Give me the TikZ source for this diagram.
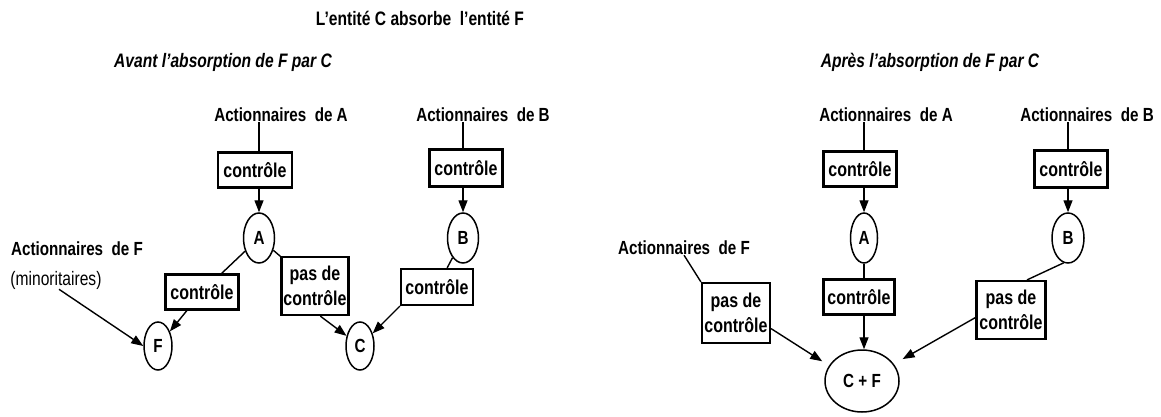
\documentclass[tikz,border=0pt]{standalone}
\usepackage{fontspec}
\setmainfont[FakeStretch=0.8]{Liberation Sans}
\usetikzlibrary{arrows.meta,shapes.geometric,calc}
\begin{document}
\begin{tikzpicture}[x=1pt,y=-1pt,
  lbl/.style={font=\fontsize{19}{22}\selectfont\bfseries, inner sep=0pt},
  ttl/.style={font=\fontsize{19.5}{22}\selectfont\bfseries, inner sep=0pt},
  sub/.style={font=\fontsize{19.5}{22}\selectfont\bfseries\itshape, inner sep=0pt},
  ctlbox/.style={draw, line width=2.2pt, font=\fontsize{20}{25}\selectfont\bfseries, align=center, inner sep=0pt},
  ent/.style={ellipse, draw, line width=1.5pt, font=\fontsize{19}{22}\selectfont\bfseries, inner sep=0pt},
  conn/.style={line width=1.4pt},
  arr/.style={conn, -{Triangle[length=12pt,width=9pt]}}]
\useasboundingbox (0,0) rectangle (1161,417);

% titles
\node[ttl] (title) at (420,18) {L'entité C absorbe\ \ l'entité F};
\node[sub] (avant) at (223,62) {Avant l'absorption\ de F par C};
\node[sub] (apres) at (930,62) {Après l'absorption de F par C};

% ---------- left diagram ----------
\node[lbl] (actA) at (281,115) {Actionnaires\ \ de A};
\node[lbl] (actB) at (483,115) {Actionnaires\ \ de B};
\node[lbl] (actF) at (77,249) {Actionnaires\ \ de F};
\node[lbl, font=\fontsize{19.5}{22}\selectfont] (minor) at (56,280) {(minoritaires)};

\node[ctlbox, minimum width=74pt, minimum height=35pt] (ctlA) at (255,170) {contrôle};
\node[ctlbox, minimum width=73pt, minimum height=37pt] (ctlB) at (466,168) {contrôle};
\node[ent, minimum width=31pt, minimum height=50pt] (A) at (259,238) {A};
\node[ent, minimum width=31pt, minimum height=50pt] (B) at (463,238) {B};
\node[ctlbox, minimum width=73pt, minimum height=35pt] (ctlF) at (202,292) {contrôle};
\node[ctlbox, minimum width=67pt, minimum height=58pt] (pdcC) at (315,286) {pas de\\contrôle};
\node[ctlbox, minimum width=72pt, minimum height=36pt] (ctlBC) at (437,287) {contrôle};
\node[ent, minimum width=28pt, minimum height=48pt] (F) at (158,346) {F};
\node[ent, minimum width=28pt, minimum height=48pt] (C) at (360,346) {C};

\draw[conn] (A.north |- actA.south) -- (A.north |- ctlA.north);
\draw[arr] (A.north |- ctlA.south) -- (A.north);
\draw[conn] (B.north |- actB.south) -- (B.north |- ctlB.north);
\draw[arr] (B.north |- ctlB.south) -- (B.north);
\draw[conn] (A) -- (ctlF);
\draw[arr] (ctlF) -- (F);
\draw[conn] (A) -- (pdcC);
\draw[arr] (pdcC.-80) -- (C);
\draw[conn] (B) -- (ctlBC);
\draw[arr] (ctlBC.south west) -- (C);
\draw[arr] ([xshift=3pt]minor.south) -- (F.west);

% ---------- right diagram ----------
\node[lbl] (actA2) at (886,115) {Actionnaires\ \ de A};
\node[lbl] (actB2) at (1087,115) {Actionnaires\ \ de B};
\node[lbl] (actF2) at (684,248) {Actionnaires\ \ de F};

\node[ctlbox, minimum width=73pt, minimum height=35pt] (ctlA2) at (860,169) {contrôle};
\node[ctlbox, minimum width=73pt, minimum height=37pt] (ctlB2) at (1071,169) {contrôle};
\node[ent, minimum width=27pt, minimum height=50pt] (A2) at (864,238) {A};
\node[ent, minimum width=32pt, minimum height=50pt] (B2) at (1068,238) {B};
\node[ctlbox, minimum width=71pt, minimum height=35pt] (ctlA3) at (859,297) {contrôle};
\node[ctlbox, minimum width=68pt, minimum height=60pt] (pdcF) at (736,313) {pas de\\contrôle};
\node[ctlbox, minimum width=69pt, minimum height=58pt] (pdcB) at (1011,310) {pas de\\contrôle};
\node[ent, minimum width=74pt, minimum height=62pt] (CF) at (862,381) {C + F};

\draw[conn] (A2.north |- actA2.south) -- (A2.north |- ctlA2.north);
\draw[arr] (A2.north |- ctlA2.south) -- (A2.north);
\draw[conn] (B2.north |- actB2.south) -- (B2.north |- ctlB2.north);
\draw[arr] (B2.north |- ctlB2.south) -- (B2.north);
\draw[conn] (A2.south) -- (A2.south |- ctlA3.north);
\draw[arr] (A2.south |- ctlA3.south) -- (A2.south |- CF.north);
\draw[conn] (actF2.south) -- (pdcF.north west);
\draw[arr, shorten >=8pt] (pdcF.-24) -- (CF.155);
\draw[conn] (B2.-100) -- (pdcB.62);
\draw[arr, shorten >=10pt] (pdcB.-168) -- (CF.28);
\end{tikzpicture}
\end{document}
